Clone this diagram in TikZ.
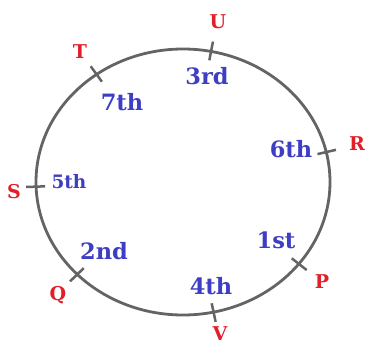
\documentclass[tikz,border=0pt]{standalone}
\usepackage{fontspec}
\setmainfont{DejaVu Serif}
\usepackage{tikz}
\usetikzlibrary{calc}

\definecolor{ringgray}{RGB}{100,100,100}
\definecolor{seatred}{RGB}{226,30,40}
\definecolor{rankblue}{RGB}{62,62,196}

\begin{document}
\begin{tikzpicture}[
    x=1pt, y=-1pt,
    ring/.style={draw=ringgray, line width=2.8pt},
    tick/.style={draw=ringgray, line width=2.5pt},
    person/.style={text=seatred, font=\fontsize{19}{22}\selectfont\bfseries, inner sep=0pt},
    rank/.style={text=rankblue, font=\fontsize{22.5}{26}\selectfont\bfseries, inner sep=0pt},
    rank_small/.style={rank, font=\fontsize{18.5}{22}\selectfont\bfseries},
]
\useasboundingbox (0,0) rectangle (367,349);

% ===================== TABLE =====================
\coordinate (C) at (183,182);
\draw[ring] (C) ellipse [x radius=147pt, y radius=133pt];

% Seat ticks (angle measured clockwise on screen)
\foreach \s/\a in {U/-79, T/-126, R/-13, S/-182, Q/-224, V/-282, P/-322} {
    \coordinate (\s in)  at ($(C)+(\a:138 and 124)$);
    \coordinate (\s out) at ($(C)+(\a:157 and 143)$);
    \draw[tick] (\s in) -- (\s out);
}

% ===================== PERSONS =====================
\node[person] (nU) at (218,22)  {U};
\node[person] (nT) at (80,52)   {T};
\node[person] (nR) at (357,144) {R};
\node[person] (nS) at (14,192)  {S};
\node[person] (nQ) at (58,295)  {Q};
\node[person] (nV) at (220,334) {V};
\node[person] (nP) at (322,282) {P};

% ===================== RANKS =====================
\node[rank] (r3) at (207,76)  {3rd};
\node[rank] (r7) at (122,102) {7th};
\node[rank] (r6) at (291,149) {6th};
\node[rank_small] (r5) at (69,182) {5th};
\node[rank] (r2) at (104,251) {2nd};
\node[rank] (r1) at (276,240) {1st};
\node[rank] (r4) at (211,286) {4th};

\end{tikzpicture}
\end{document}
